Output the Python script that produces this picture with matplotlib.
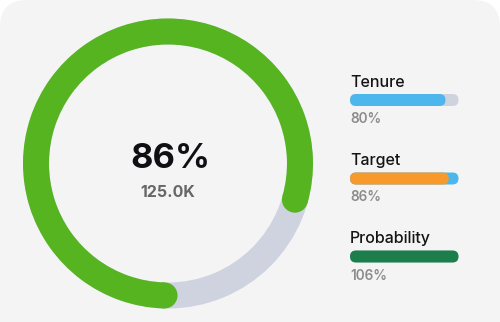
import matplotlib
matplotlib.use("Agg")
import matplotlib.pyplot as plt
from matplotlib.patches import Wedge, Circle, FancyBboxPatch
import numpy as np

# ---- data ----
center_value = "86%"
center_sub = "125.0K"
ring_value = 0.79          # fraction of the ring drawn in green
metric_labels = ["Tenure", "Target", "Probability"]
metric_values = ["80%", "86%", "106%"]
bar_fill = [0.88, 0.91, 1.0]   # filled share of each bar
fill_colors = ["#4DB6EC", "#F8992B", "#1B7E4B"]
track_colors = ["#CED3DE", "#4DB6EC", "#CED3DE"]

W, H = 500, 322
plt.rcParams['font.family'] = ['Inter', 'DejaVu Sans']
fig = plt.figure(figsize=(W / 100, H / 100), dpi=100)
fig.patch.set_facecolor("white")
ax = fig.add_axes([0, 0, 1, 1])
ax.set_xlim(0, W)
ax.set_ylim(0, H)
ax.set_aspect("equal")
ax.axis("off")

def Y(y_img):
    return H - y_img

# card
card = FancyBboxPatch((0, -60), W, H + 60, boxstyle="round,pad=0,rounding_size=27",
                      facecolor="#F4F4F4", edgecolor="none")
ax.add_patch(card)

# ring
cx, cy = 168.0, Y(163.5)
r_out, width = 145.0, 26.0
r_mid = r_out - width / 2
ax.add_patch(Wedge((cx, cy), r_out, 0, 360, width=width, facecolor="#CED3DF", edgecolor="none"))
start = 268.5
end = start - 360.0 * ring_value
green = "#55B420"
ax.add_patch(Wedge((cx, cy), r_out, end, start, width=width, facecolor=green, edgecolor="none"))
for ang in (start, end):
    a = np.deg2rad(ang)
    ax.add_patch(Circle((cx + r_mid * np.cos(a), cy + r_mid * np.sin(a)), width / 2,
                        facecolor=green, edgecolor="none"))

ax.text(170, Y(167.7), center_value, ha="center", va="baseline", fontsize=24.8,
        fontweight="bold", color="#0F0F14")
ax.text(168, Y(197.3), center_sub, ha="center", va="baseline", fontsize=11.5,
        fontweight="bold", color="#666666")

# bars
x0, bw, bh = 350.0, 108.5, 12.0
label_base = [86.7, 165.0, 243.5]
bar_center = [100.0, 178.5, 256.5]
pct_base = [123.3, 201.0, 279.5]
for i in range(len(metric_labels)):
    ax.text(x0, Y(label_base[i]), metric_labels[i], ha="left", va="baseline",
            fontsize=11.5, fontweight="medium", color="#141414")
    yc = Y(bar_center[i])
    ax.add_patch(FancyBboxPatch((x0, yc - bh / 2), bw, bh,
                                boxstyle=f"round,pad=0,rounding_size={bh/2}",
                                facecolor=track_colors[i], edgecolor="none"))
    ax.add_patch(FancyBboxPatch((x0, yc - bh / 2), bw * bar_fill[i], bh,
                                boxstyle=f"round,pad=0,rounding_size={bh/2}",
                                facecolor=fill_colors[i], edgecolor="none"))
    ax.text(x0, Y(pct_base[i]), metric_values[i], ha="left", va="baseline",
            fontsize=9.8, fontweight="semibold", color="#8C8C8C")

fig.savefig("out.png", dpi=100, facecolor=fig.get_facecolor())
